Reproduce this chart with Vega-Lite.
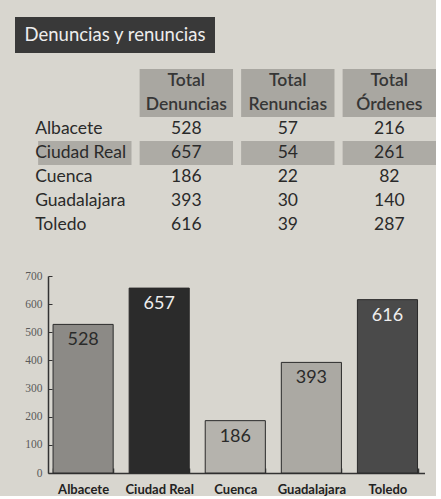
{
  "$schema": "https://vega.github.io/schema/vega-lite/v6.json",
  "background": "#d8d6cf",
  "padding": {"left": 15, "top": 17, "right": 0, "bottom": 0},
  "spacing": 16,
  "config": {"view": {"stroke": null}, "font": "Lato"},
  "datasets": {
    "titulo": [{"texto": "Denuncias y renuncias"}],
    "cabecera": [
      {"columna": "denuncias", "linea1": "Total", "linea2": "Denuncias"},
      {"columna": "renuncias", "linea1": "Total", "linea2": "Renuncias"},
      {"columna": "ordenes", "linea1": "Total", "linea2": "Órdenes"}
    ],
    "tabla": [
      {"provincia": "Albacete", "denuncias": 528, "renuncias": 57, "ordenes": 216},
      {"provincia": "Ciudad Real", "denuncias": 657, "renuncias": 54, "ordenes": 261},
      {"provincia": "Cuenca", "denuncias": 186, "renuncias": 22, "ordenes": 82},
      {"provincia": "Guadalajara", "denuncias": 393, "renuncias": 30, "ordenes": 140},
      {"provincia": "Toledo", "denuncias": 616, "renuncias": 39, "ordenes": 287}
    ]
  },
  "vconcat": [
    {
      "width": 200,
      "height": 36,
      "view": {"fill": "#393939", "stroke": null},
      "data": {"name": "titulo"},
      "mark": {"type": "text", "color": "#ededed", "fontSize": 18.5, "font": "Lato"},
      "encoding": {"text": {"field": "texto", "type": "nominal"}}
    },
    {
      "width": 421,
      "height": 185,
      "layer": [
        {
          "data": {"name": "cabecera"},
          "transform": [{"fold": ["linea1", "linea2"], "as": ["linea", "texto"]}],
          "mark": {"type": "rect", "color": "#a9a7a1"},
          "encoding": {
            "x": {"field": "columna", "type": "nominal", "axis": null,
              "scale": {"domain": ["provincia", "denuncias", "renuncias", "ordenes"], "paddingInner": 0.08, "paddingOuter": 0.114, "align": 1}},
            "y": {"field": "linea", "type": "nominal", "axis": null,
              "scale": {"domain": ["linea1", "linea2", "Albacete", "Ciudad Real", "Cuenca", "Guadalajara", "Toledo"], "paddingInner": 0, "paddingOuter": 0.354, "align": 0}}
          }
        },
        {
          "data": {"name": "cabecera"},
          "transform": [{"fold": ["linea1", "linea2"], "as": ["linea", "texto"]}],
          "mark": {"type": "text", "fontSize": 17.5, "fontWeight": 600, "color": "#363636", "font": "Lato"},
          "encoding": {
            "x": {"field": "columna", "type": "nominal", "axis": null},
            "y": {"field": "linea", "type": "nominal", "axis": null},
            "text": {"field": "texto", "type": "nominal"}
          }
        },
        {
          "data": {"name": "tabla"},
          "transform": [
            {"filter": "datum.provincia === 'Ciudad Real'"},
            {"fold": ["provincia", "denuncias", "renuncias", "ordenes"], "as": ["columna", "valor"]}
          ],
          "mark": {"type": "rect", "color": "#adaba5"},
          "encoding": {
            "x": {"field": "columna", "type": "nominal", "axis": null},
            "y": {"field": "provincia", "type": "nominal", "axis": null}
          }
        },
        {
          "data": {"name": "tabla"},
          "mark": {"type": "text", "align": "left", "dx": -3, "fontSize": 17.5, "color": "#2a2a2a", "font": "Lato"},
          "encoding": {
            "x": {"datum": "provincia", "type": "nominal", "bandPosition": 0, "axis": null},
            "y": {"field": "provincia", "type": "nominal", "axis": null},
            "text": {"field": "provincia", "type": "nominal"},
            "fontWeight": {"condition": {"test": "datum.provincia === 'Ciudad Real'", "value": "bold"}, "value": "normal"}
          }
        },
        {
          "data": {"name": "tabla"},
          "transform": [{"fold": ["denuncias", "renuncias", "ordenes"], "as": ["columna", "valor"]}],
          "mark": {"type": "text", "fontSize": 17.5, "color": "#2a2a2a", "font": "Lato"},
          "encoding": {
            "x": {"field": "columna", "type": "nominal", "axis": null},
            "y": {"field": "provincia", "type": "nominal", "axis": null},
            "text": {"field": "valor", "type": "quantitative"},
            "fontWeight": {"condition": {"test": "datum.provincia === 'Ciudad Real'", "value": "bold"}, "value": "normal"}
          }
        }
      ]
    },
    {
      "width": 409.5,
      "height": 197,
      "data": {"name": "tabla"},
      "encoding": {
        "x": {"field": "provincia", "type": "nominal",
          "scale": {"range": [33, 409.5], "paddingInner": 0.21, "paddingOuter": 0.079, "align": 0.42},
          "axis": {"title": null, "labelAngle": 0, "tickBand": "extent", "tickSize": -5, "labelFont": "Lato", "labelFontSize": 13, "labelFontWeight": "bold", "labelColor": "#222222", "labelPadding": 15, "domainColor": "#333333", "domainWidth": 1.5, "tickColor": "#333333", "tickWidth": 1.5}},
        "y": {"field": "denuncias", "type": "quantitative",
          "scale": {"domain": [0, 700]},
          "axis": {"title": null, "offset": -33, "values": [0, 100, 200, 300, 400, 500, 600, 700], "labelOverlap": false, "grid": false, "tickSize": -4, "labelPadding": 10, "labelFont": "Liberation Sans Narrow", "labelFontSize": 11.5, "labelColor": "#5a5a5a", "domainColor": "#333333", "domainWidth": 1.5, "tickColor": "#333333"}}
      },
      "layer": [
        {
          "mark": {"type": "bar", "stroke": "#2a2a2a", "strokeWidth": 1},
          "encoding": {
            "color": {"field": "provincia", "type": "nominal", "legend": null,
              "scale": {"domain": ["Albacete", "Ciudad Real", "Cuenca", "Guadalajara", "Toledo"], "range": ["#8c8a86", "#2b2b2b", "#b5b3ad", "#aba9a3", "#4a4a4a"]}}
          }
        },
        {
          "mark": {"type": "text", "baseline": "top", "dy": 7, "fontSize": 18, "font": "Lato"},
          "encoding": {
            "text": {"field": "denuncias", "type": "quantitative"},
            "color": {"condition": {"test": "datum.provincia === 'Ciudad Real' || datum.provincia === 'Toledo'", "value": "#eeeeee"}, "value": "#2a2a2a"}
          }
        }
      ]
    }
  ]
}
